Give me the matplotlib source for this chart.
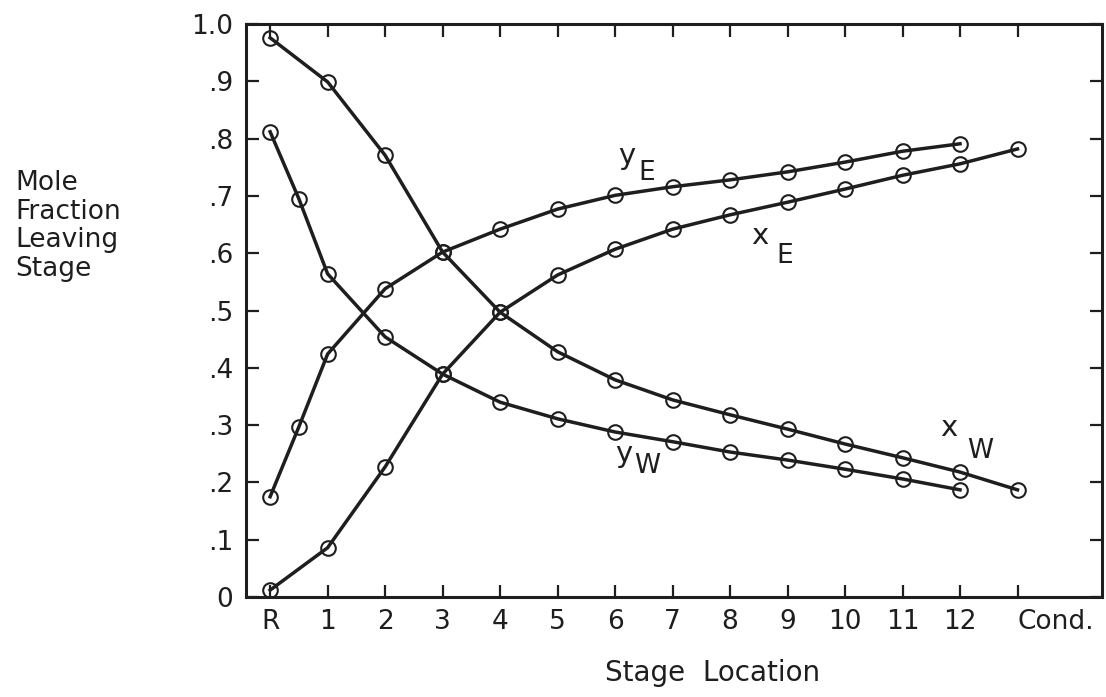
import matplotlib
matplotlib.use("Agg")
import matplotlib.pyplot as plt

# stage positions: R = 0, stages 1..12, Cond. = 13 (R+0.5 used for extra points)
stage_labels = ["R", "1", "2", "3", "4", "5", "6", "7", "8", "9", "10", "11", "12", "Cond."]

xw_pos = [0, 1, 2, 3, 4, 5, 6, 7, 8, 9, 10, 11, 12, 13]
xw_val = [0.976, 0.899, 0.771, 0.602, 0.497, 0.428, 0.379, 0.344, 0.318, 0.293, 0.267, 0.243, 0.218, 0.187]

yw_pos = [0, 0.5, 1, 2, 3, 4, 5, 6, 7, 8, 9, 10, 11, 12]
yw_val = [0.812, 0.695, 0.564, 0.454, 0.389, 0.340, 0.311, 0.288, 0.271, 0.253, 0.239, 0.223, 0.206, 0.187]

ye_pos = [0, 0.5, 1, 2, 3, 4, 5, 6, 7, 8, 9, 10, 11, 12]
ye_val = [0.175, 0.297, 0.424, 0.538, 0.602, 0.642, 0.677, 0.701, 0.716, 0.728, 0.742, 0.759, 0.778, 0.791]

xe_pos = [0, 1, 2, 3, 4, 5, 6, 7, 8, 9, 10, 11, 12, 13]
xe_val = [0.012, 0.086, 0.227, 0.389, 0.497, 0.562, 0.607, 0.642, 0.667, 0.689, 0.712, 0.736, 0.756, 0.782]

yticks = [0, 0.1, 0.2, 0.3, 0.4, 0.5, 0.6, 0.7, 0.8, 0.9, 1.0]
ytick_labels = ["0", ".1", ".2", ".3", ".4", ".5", ".6", ".7", ".8", ".9", "1.0"]

ink = "#1e1e1e"
plt.rcParams["font.family"] = ["DejaVu Sans"]

fig = plt.figure(figsize=(11.06, 6.97), dpi=100)
ax = fig.add_axes([0.2224, 0.1435, 0.774, 0.822])

style = dict(color=ink, lw=2.5, marker="o", ms=10.5, mfc="none", mec=ink, mew=1.5)
for xs, ys in [(xw_pos, xw_val), (yw_pos, yw_val), (ye_pos, ye_val), (xe_pos, xe_val)]:
    ax.plot(xs, ys, **style)

ax.set_xlim(-0.42, 14.47)
ax.set_ylim(0, 1.0)
ax.set_xticks(range(len(stage_labels)))
ax.set_xticklabels(stage_labels, fontsize=19, color=ink)
ax.set_yticks(yticks)
ax.set_yticklabels(ytick_labels, fontsize=19, color=ink)
ax.tick_params(direction="in", length=9, width=1.6, color=ink,
               top=True, right=True, pad=9)
ax.tick_params(axis="y", labelright=False)
ax.tick_params(axis="x", labeltop=False)
# "Cond." sits to the right of its tick in the original
ax.get_xticklabels()[-1].set_horizontalalignment("left")
ax.get_xticklabels()[-1].set_x(12.85)
for s in ax.spines.values():
    s.set_linewidth(2.2)
    s.set_color(ink)

# curve labels (letter + subscript)
big = dict(fontsize=21, color=ink, ha="center", va="center")
sub = dict(fontsize=19, color=ink, ha="center", va="center")
ax.text(6.2, 0.77, "y", **big)
ax.text(6.55, 0.74, "E", **sub)
ax.text(8.52, 0.63, "x", **big)
ax.text(8.95, 0.595, "E", **sub)
ax.text(6.15, 0.25, "y", **big)
ax.text(6.55, 0.228, "W", **sub)
ax.text(11.8, 0.295, "x", **big)
ax.text(12.35, 0.255, "W", **sub)

fig.text(15 / 1106, 1 - 170 / 697, "Mole\nFraction\nLeaving\nStage",
         ha="left", va="top", fontsize=19, color=ink, linespacing=1.13)
fig.text(713 / 1106, 1 - 673 / 697, "Stage  Location",
         ha="center", va="center", fontsize=20, color=ink)

fig.savefig("out.png", dpi=100, facecolor="white")
